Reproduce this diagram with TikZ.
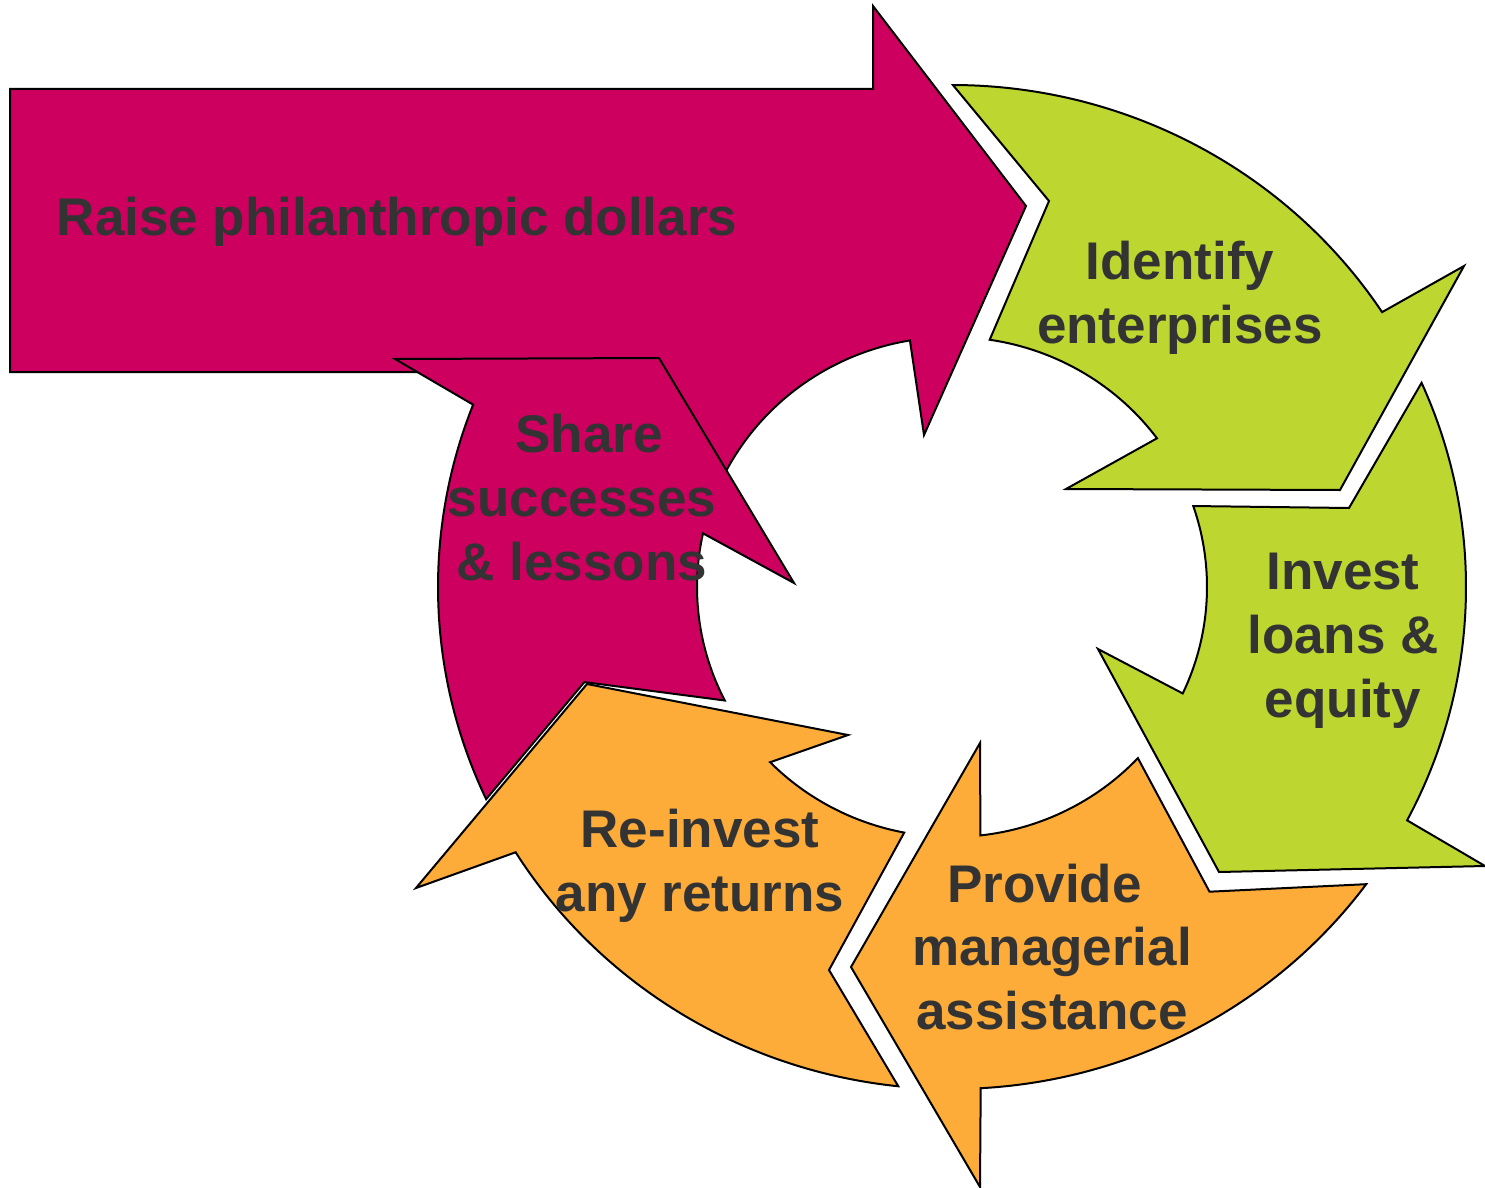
\documentclass[tikz,border=0pt]{standalone}
\usepackage{fontspec}
\setmainfont{Liberation Sans}
\definecolor{mag}{RGB}{205,0,96}
\definecolor{lime}{RGB}{189,215,48}
\definecolor{amber}{RGB}{253,172,58}
\definecolor{ink}{RGB}{51,51,51}
\begin{document}
\begin{tikzpicture}[x=1pt,y=-1pt,
  seg/.style={draw=black, line width=2pt, line join=miter},
  lbl/.style={text=ink, font=\fontsize{53}{63.8}\selectfont\bfseries, align=center, inner sep=0pt}]
\useasboundingbox (0,0) rectangle (1485,1188);
\coordinate (C) at (952,587);
\begin{scope}[shift={(952,587)}]
% Raise philanthropic dollars
\path[seg, fill=mag] (-942,-498) -- (-79,-498) -- (-79,-581) -- (74,-381) -- (-28,-152)
  -- (260.5:255 and 250) arc[start angle=260.5, end angle=200, x radius=255, y radius=250]
  -- (-352,-215) -- (-942,-215) -- cycle;
% Share successes & lessons
\path[seg, fill=mag] (155:514 and 502) arc[start angle=155, end angle=201.3, x radius=514, y radius=502]
  -- (-557,-228) -- (-293,-229) -- (-158,-4)
  -- (192.4:255 and 250) arc[start angle=192.4, end angle=153, x radius=255, y radius=250]
  -- (-367.6,95.1) -- cycle;
% Identify enterprises
\path[seg, fill=lime] (270.1:514 and 502) arc[start angle=270.1, end angle=326.8, x radius=514, y radius=502]
  -- (512,-321) -- (388,-97) -- (114,-98)
  -- (323.5:255 and 250) arc[start angle=323.5, end angle=278.5, x radius=255, y radius=250]
  -- (97,-386) -- cycle;
% Invest loans & equity
\path[seg, fill=lime] (336:514 and 502) arc[start angle=336, end angle=387.7, x radius=514, y radius=502]
  -- (533,279) -- (267,285) -- (146,62)
  -- (25.2:255 and 250) arc[start angle=385.2, end angle=341.1, x radius=255, y radius=250]
  -- (397,-79) -- cycle;
% Provide managerial assistance
\path[seg, fill=amber] (36.3:514 and 502) arc[start angle=36.3, end angle=86.8, x radius=514, y radius=502]
  -- (28,600) -- (-101,380) -- (28,156)
  -- (83.6:255 and 250) arc[start angle=83.6, end angle=43.2, x radius=255, y radius=250]
  -- (257.5,304.7) -- cycle;
% Re-invest any returns
\path[seg, fill=amber] (96:514 and 502) arc[start angle=96, end angle=148.1, x radius=514, y radius=502]
  -- (-536,301) -- (-365,97) -- (-104,148)
  -- (135.5:255 and 250) arc[start angle=135.5, end angle=100.8, x radius=255, y radius=250]
  -- (-123,383) -- cycle;
\end{scope}
\node[lbl] (raise) at (397,222) {Raise philanthropic dollars};
\node[lbl] (identify) at (1180,297.7) {Identify\\enterprises};
\node[lbl] (invest) at (1343,640.5) {Invest\\loans \&\\equity};
\node[lbl] (provide) at (1052,947) {Provide\hspace*{15pt}\\managerial\\assistance};
\node[lbl] (reinvest) at (700,866) {Re-invest\\any returns};
\node[lbl] (share) at (582,497.6) {\hspace*{14pt}Share\\successes\\\& lessons};
\end{tikzpicture}
\end{document}
